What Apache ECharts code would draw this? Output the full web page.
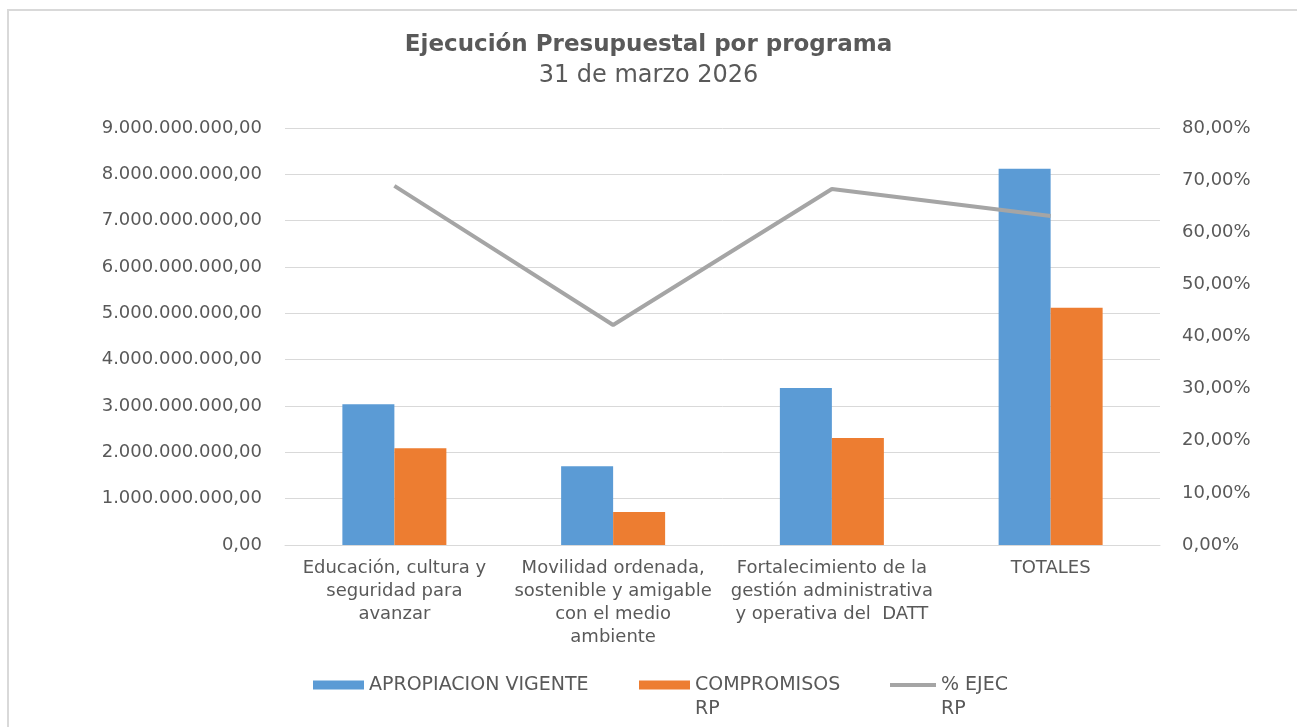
<!DOCTYPE html>
<html>
<head>
<meta charset="utf-8">
<title>Ejecución Presupuestal por programa</title>
<script src="https://cdn.jsdelivr.net/npm/echarts@6/dist/echarts.min.js"></script>
<style>
  html, body { margin: 0; padding: 0; background: #ffffff; }
  #chart { width: 1297px; height: 727px; }
</style>
</head>
<body>
<div id="chart"></div>
<script>
// datos
const categorias = [
  'Educación, cultura y\nseguridad para\navanzar',
  'Movilidad ordenada,\nsostenible y amigable\ncon el medio\nambiente',
  'Fortalecimiento de la\ngestión administrativa\ny operativa del  DATT',
  'TOTALES'
]
const apropiacion = [3040000000, 1700000000, 3390000000, 8120000000]
const compromisos = [2090000000, 710000000, 2310000000, 5120000000]
const ejecucion = [0.689, 0.422, 0.683, 0.631]

const nombres = ['APROPIACION VIGENTE', 'COMPROMISOS RP', '% EJEC RP']

const gris = '#595959'
const fuente = 'DejaVu Sans'

function formatoMiles (v) {
  // 9000000000 -> 9.000.000.000,00
  const partes = v.toFixed(2).split('.')
  partes[0] = partes[0].replace(/\B(?=(\d{3})+(?!\d))/g, '.')
  return partes[0] + ',' + partes[1]
}

function formatoPct (v) {
  return (v * 100).toFixed(2).replace('.', ',') + '%'
}

// la primera línea del texto queda a la altura del icono (línea vacía arriba)
function leyendaDosLineas (name) {
  return '\n' + name.replace(' RP', '\nRP')
}

const chart = echarts.init(document.getElementById('chart'))
chart.setOption({
  backgroundColor: '#ffffff',
  animation: false,
  graphic: [{
    type: 'rect',
    z: -10,
    shape: { x: 8, y: 10, width: 1300, height: 730 },
    style: { fill: 'none', stroke: '#d9d9d9', lineWidth: 2 }
  }],
  title: {
    text: 'Ejecución Presupuestal por programa',
    subtext: '31 de marzo 2026',
    left: 'center',
    top: 29,
    itemGap: 7,
    textStyle: {
      fontFamily: fuente,
      fontWeight: 'bold',
      fontSize: 23,
      color: gris
    },
    subtextStyle: {
      fontFamily: fuente,
      fontSize: 24,
      color: gris
    }
  },
  legend: [
    {
      data: [nombres[0]],
      left: 308,
      top: 668,
      itemWidth: 51,
      itemHeight: 9,
      icon: 'rect',
      textStyle: { fontFamily: fuente, fontSize: 19, lineHeight: 24, color: gris }
    },
    {
      data: [nombres[1]],
      left: 634,
      top: 644,
      itemWidth: 51,
      itemHeight: 9,
      icon: 'rect',
      formatter: leyendaDosLineas,
      textStyle: { fontFamily: fuente, fontSize: 19, lineHeight: 24, color: gris }
    },
    {
      data: [nombres[2]],
      left: 885,
      top: 644,
      itemWidth: 46,
      itemHeight: 4,
      icon: 'rect',
      formatter: leyendaDosLineas,
      textStyle: { fontFamily: fuente, fontSize: 19, lineHeight: 24, color: gris }
    }
  ],
  grid: {
    left: 285,
    right: 137,
    top: 128,
    bottom: 182
  },
  xAxis: [{
    type: 'category',
    data: categorias,
    axisTick: { show: false },
    axisLine: { lineStyle: { color: '#d9d9d9', width: 1 } },
    axisLabel: {
      interval: 0,
      margin: 12,
      fontFamily: fuente,
      fontSize: 18,
      lineHeight: 23,
      color: gris
    }
  }],
  yAxis: [
    {
      type: 'value',
      min: 0,
      max: 9000000000,
      interval: 1000000000,
      axisLine: { show: false },
      axisTick: { show: false },
      splitLine: { lineStyle: { color: '#d9d9d9', width: 1 } },
      axisLabel: {
        margin: 23,
        fontFamily: fuente,
        fontSize: 18,
        color: gris,
        formatter: formatoMiles
      }
    },
    {
      type: 'value',
      min: 0,
      max: 0.8,
      interval: 0.1,
      axisLine: { show: false },
      axisTick: { show: false },
      splitLine: { show: false },
      axisLabel: {
        margin: 22,
        fontFamily: fuente,
        fontSize: 18,
        color: gris,
        formatter: formatoPct
      }
    }
  ],
  series: [
    {
      name: nombres[0],
      type: 'bar',
      barWidth: 52,
      barGap: '0%',
      itemStyle: { color: '#5b9bd5' },
      data: apropiacion
    },
    {
      name: nombres[1],
      type: 'bar',
      barWidth: 52,
      barGap: '0%',
      itemStyle: { color: '#ed7d31' },
      data: compromisos
    },
    {
      name: nombres[2],
      type: 'line',
      yAxisIndex: 1,
      showSymbol: false,
      symbol: 'none',
      lineStyle: { color: '#a5a5a5', width: 4 },
      itemStyle: { color: '#a5a5a5' },
      data: ejecucion
    }
  ]
})
</script>
</body>
</html>
